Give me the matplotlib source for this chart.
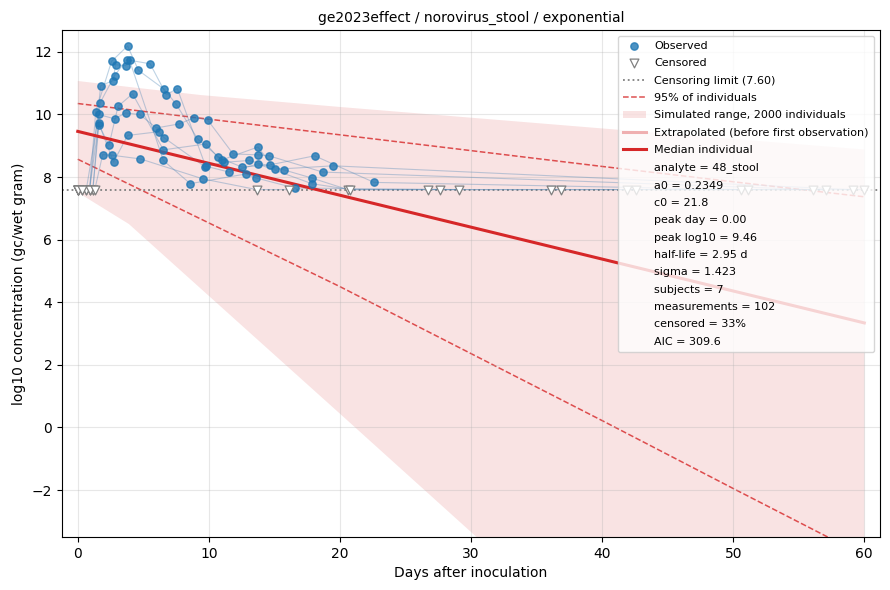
import numpy as np
import matplotlib
matplotlib.use("Agg")
import matplotlib.pyplot as plt

# censoring limit (log10 gc/wet gram)
limit = 7.60

# per-subject measurements, None = censored (drawn at the limit)
subject_days = [
    [0.0, 0.9, 1.37, 2.58, 3.80, 4.63, 6.61, 7.52, 9.14, 11.01, 13.74, 15.06, 19.49, 59.1],
    [0.0, 0.65, 1.60, 2.81, 3.65, 4.71, 6.00, 7.75, 8.89, 9.90, 11.85, 13.74, 14.58, 18.68, 56.1],
    [0.0, 0.35, 1.15, 1.62, 2.38, 3.07, 4.18, 6.53, 9.80, 10.66, 12.53, 14.66, 18.07, 22.60, 50.6],
    [0.05, 0.9, 1.60, 2.73, 3.80, 6.18, 6.61, 9.70, 11.12, 13.06, 15.72, 17.85, 20.6, 26.7, 36.1, 42.6, 51.1, 60.0],
    [0.0, 0.65, 1.15, 1.70, 2.81, 3.72, 5.52, 6.76, 7.59, 9.75, 11.54, 13.74, 17.85, 20.8, 27.6, 36.9, 41.9, 57.1],
    [0.0, 0.9, 1.75, 2.69, 2.89, 3.65, 3.95, 6.53, 8.58, 12.83, 13.62, 16.55, 29.1],
    [0.0, 0.35, 1.3, 1.90, 2.58, 4.78, 9.57, 13.65, 16.1],
]
subject_vals = [
    [None, None, 10.09, 11.70, 12.19, 11.41, 10.80, 10.32, 9.22, 8.55, 8.96, 8.25, 8.36, None],
    [None, None, 10.00, 9.86, 10.05, 10.00, 9.57, 9.70, 9.90, 9.83, 8.74, 8.71, 8.68, 8.16, None],
    [None, None, None, 9.67, 9.01, 10.26, 10.66, 8.87, 9.06, 8.64, 8.32, 8.39, 8.68, 7.83, None],
    [None, None, 9.72, 8.48, 9.33, 9.45, 9.25, 8.33, 8.47, 8.53, 8.23, 7.97, None, None, None, None, None, None],
    [None, None, None, 10.37, 11.24, 11.75, 11.62, 10.63, 10.83, 8.35, 8.16, 8.42, 7.79, None, None, None, None, None],
    [None, None, 10.92, 11.08, 11.59, 11.56, 11.73, 8.53, 7.79, 8.10, 7.97, 7.65, None],
    [None, None, None, 8.72, 8.70, 8.58, 7.94, None, None],
]

# simulated range of 2000 individuals
band_days = [0, 3.9, 9.4, 20, 41, 60]
band_hi = [11.07, 10.88, 10.62, 10.24, 9.52, 8.88]
band_lo = [7.51, 6.50, 4.43, 0.44, -7.5, -14.6]

# 95% of individuals
pi_days = [0, 20, 40, 50, 60]
pi_hi = [10.35, 9.35, 8.34, 7.85, 7.37]
pi_lo = [8.57, 4.50, 0.22, -1.95, -4.10]

# median individual
median_days = [0, 60]
median_vals = [9.46, 3.34]

fit_info = [
    "analyte = 48_stool",
    "a0 = 0.2349",
    "c0 = 21.8",
    "peak day = 0.00",
    "peak log10 = 9.46",
    "half-life = 2.95 d",
    "sigma = 1.423",
    "subjects = 7",
    "measurements = 102",
    "censored = 33%",
    "AIC = 309.6",
]

red = "#d62728"

fig = plt.figure(figsize=(8.9, 5.9), dpi=100)
ax = fig.add_axes([0.0697, 0.0898, 0.9191, 0.8594])

# subject trajectories
obs_x, obs_y, cen_x = [], [], []
for days, vals in zip(subject_days, subject_vals):
    ys = [limit if v is None else v for v in vals]
    ax.plot(days, ys, color="steelblue", alpha=0.35, lw=0.8, zorder=2)
    for d, v in zip(days, vals):
        if v is None:
            cen_x.append(d)
        else:
            obs_x.append(d)
            obs_y.append(v)

ax.fill_between(band_days, band_lo, band_hi, color=red, alpha=0.13, lw=0,
                zorder=0, label="Simulated range, 2000 individuals")
ax.plot(pi_days, pi_hi, "--", color=red, alpha=0.8, lw=1.1, zorder=1)
ax.plot(pi_days, pi_lo, "--", color=red, alpha=0.8, lw=1.1, zorder=1,
        label="95% of individuals")
ax.axhline(limit, color="grey", ls=":", lw=1.3, zorder=1,
           label="Censoring limit (%.2f)" % limit)
ax.plot([], [], color=red, alpha=0.35, lw=2.2,
        label="Extrapolated (before first observation)")
ax.plot(median_days, median_vals, color=red, lw=2.2, zorder=3,
        label="Median individual")

ax.scatter(obs_x, obs_y, s=28, color="#1f77b4", alpha=0.8, zorder=4,
           label="Observed")
ax.scatter(cen_x, [limit] * len(cen_x), s=40, marker="v", facecolor="white",
           edgecolor="grey", lw=0.9, zorder=4, label="Censored")

for t in fit_info:
    ax.plot([], [], " ", label=t)

h, l = ax.get_legend_handles_labels()
order = ["Observed", "Censored", "Censoring limit (%.2f)" % limit,
         "95% of individuals", "Simulated range, 2000 individuals",
         "Extrapolated (before first observation)", "Median individual"] + fit_info
hd = dict(zip(l, h))
ax.legend([hd[k] for k in order], order, loc="upper right", fontsize=8,
          labelspacing=0.66, borderpad=0.5)

ax.set_xlim(-1.2, 61.2)
ax.set_ylim(-3.5, 12.7)
ax.grid(True, alpha=0.3)
ax.set_xlabel("Days after inoculation")
ax.set_ylabel("log10 concentration (gc/wet gram)")
ax.set_title("ge2023effect / norovirus_stool / exponential", fontsize=10)

fig.savefig("out.png")
